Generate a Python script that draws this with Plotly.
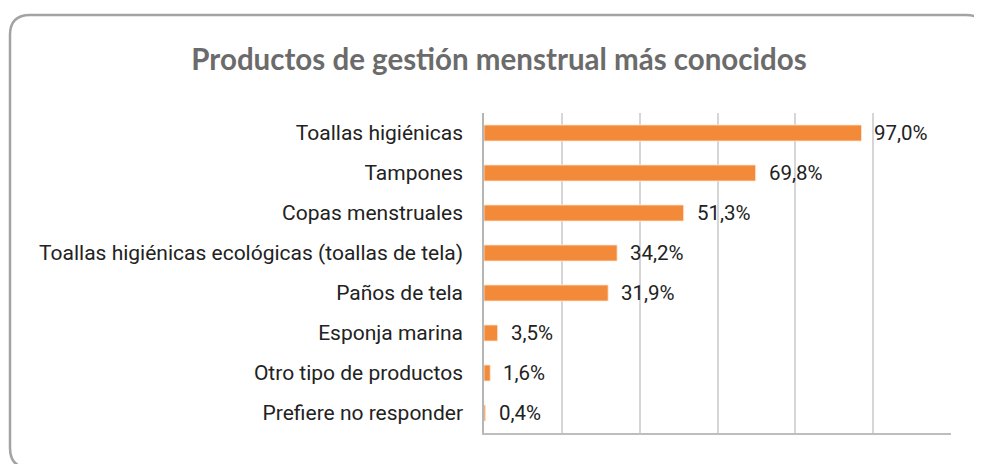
import plotly.graph_objects as go

categories = [
    "Toallas higiénicas",
    "Tampones",
    "Copas menstruales",
    "Toallas higiénicas ecológicas (toallas de tela)",
    "Paños de tela",
    "Esponja marina",
    "Otro tipo de productos",
    "Prefiere no responder",
]
values = [97.0, 69.8, 51.3, 34.2, 31.9, 3.5, 1.6, 0.4]
value_labels = ["97,0%", "69,8%", "51,3%", "34,2%", "31,9%", "3,5%", "1,6%", "0,4%"]
title_text = "Productos de gestión menstrual más conocidos"

OFF = 8  # default page body margin
W, H = 982 - OFF, 464 - OFF
L, R, T, B = 484 - OFF, 31, 113 - OFF, 31
PW, PH = W - L - R, H - T - B

def px(x):
    return (x - OFF - L) / PW

def py(y):
    return 1 - (y - OFF - T) / PH

fig = go.Figure()
fig.add_trace(go.Bar(
    x=values, y=categories, orientation="h",
    marker=dict(color="#F38A3A", line=dict(color="rgba(255,230,210,0.8)", width=1)),
    hoverinfo="skip",
))

for v, c, t in zip(values, categories, value_labels):
    fig.add_annotation(x=v, y=c, xref="x", yref="y", text=t, showarrow=False,
                       xanchor="left", yanchor="middle", xshift=11,
                       font=dict(family="Roboto", size=20.5, color="#222222"))

# rounded border
x0, y0, x1, y1, r = 10, 15, 986, 468, 20
path = (f"M {px(x0+r)},{py(y0)} L {px(x1-r)},{py(y0)} Q {px(x1)},{py(y0)} {px(x1)},{py(y0+r)} "
        f"L {px(x1)},{py(y1-r)} Q {px(x1)},{py(y1)} {px(x1-r)},{py(y1)} "
        f"L {px(x0+r)},{py(y1)} Q {px(x0)},{py(y1)} {px(x0)},{py(y1-r)} "
        f"L {px(x0)},{py(y0+r)} Q {px(x0)},{py(y0)} {px(x0+r)},{py(y0)} Z")
fig.add_shape(type="path", path=path, xref="paper", yref="paper",
              line=dict(color="#A3A3A3", width=2.5), layer="below")

fig.update_layout(
    width=W, height=H,
    margin=dict(l=L, r=R, t=T, b=B),
    paper_bgcolor="white", plot_bgcolor="white",
    bargap=0.6, showlegend=False,
    title=dict(text=f"<b>{title_text}</b>", x=(499 - OFF) / W, xanchor="center",
               y=1 - (60 - OFF) / H, yanchor="middle", xref="container", yref="container",
               font=dict(family="Lato", size=29.5, color="#6B6B6B")),
    xaxis=dict(range=[0, 120], dtick=20, tick0=0, showticklabels=False,
               showgrid=True, gridcolor="#D6D6D6", gridwidth=1.5,
               zeroline=False, showline=True, linecolor="#BDBDBD", linewidth=1.5,
               ticks=""),
    yaxis=dict(autorange="reversed", showgrid=False, zeroline=False,
               showline=True, linecolor="#B5B5B5", linewidth=1.5,
               ticks="", ticklabelstandoff=15,
               tickfont=dict(family="Roboto", size=21, color="#222222")),
)

fig.write_html("out.html")
